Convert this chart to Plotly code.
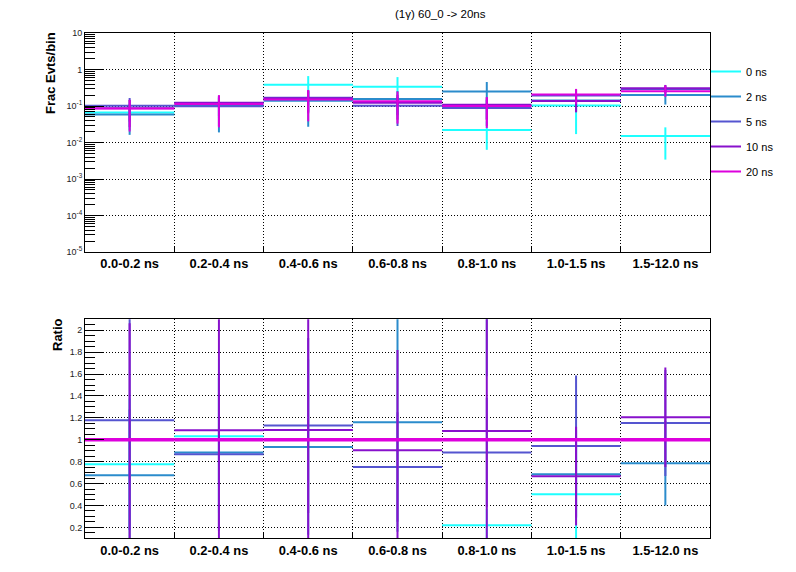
import plotly.graph_objects as go

# ---------------- data ----------------
categories = ["0.0-0.2 ns", "0.2-0.4 ns", "0.4-0.6 ns", "0.6-0.8 ns",
              "0.8-1.0 ns", "1.0-1.5 ns", "1.5-12.0 ns"]
series_names = ["0 ns", "2 ns", "5 ns", "10 ns", "20 ns"]
series_colors = ["#1effff", "#2b8ccc", "#5555d0", "#8811cc", "#dd00dd"]

frac_0ns = [0.0668, 0.1167, 0.384, 0.339, 0.022, 0.103, 0.015]
frac_2ns = [0.0582, 0.0999, 0.140, 0.1566, 0.248, 0.1406, 0.1996]
frac_5ns = [0.1014, 0.0981, 0.1695, 0.1013, 0.0884, 0.1931, 0.2926]
frac_10ns = [0.0864, 0.1229, 0.1632, 0.1222, 0.1079, 0.1369, 0.3063]
frac_20ns = [0.086, 0.113, 0.150, 0.135, 0.100, 0.205, 0.254]

err_hi_0ns = [0.045, 0.07, 0.276, 0.28, 0.0157, 0.08, 0.011]
err_lo_0ns = [0.045, 0.07, 0.276, 0.28, 0.0157, 0.086, 0.0116]
err_hi_2ns = [0.042, 0.081, 0.113, 0.101, 0.206, 0.07, 0.09]
err_lo_2ns = [0.042, 0.081, 0.113, 0.101, 0.206, 0.07, 0.09]
err_hi_5ns = [0.064, 0.07, 0.10, 0.073, 0.06, 0.09, 0.07]
err_lo_5ns = [0.064, 0.07, 0.10, 0.073, 0.06, 0.09, 0.07]
err_hi_10ns = [0.06, 0.07, 0.10, 0.08, 0.065, 0.07, 0.071]
err_lo_10ns = [0.06, 0.07, 0.10, 0.08, 0.065, 0.07, 0.071]
err_hi_20ns = [0.062, 0.085, 0.125, 0.113, 0.075, 0.089, 0.11]
err_lo_20ns = [0.066, 0.087, 0.112, 0.102, 0.075, 0.09, 0.075]

ratio_err_0ns = [0.6, 0.7, 0.3, 0.3, 0.15, 0.45, 0.04]
ratio_err_2ns = [0.6, 0.7, 0.8, 1.0, 0.9, 0.4, 0.386]
ratio_err_5ns = [1.0, 0.7, 0.8, 0.5, 0.5, 0.645, 0.484]
ratio_err_10ns = [1.06, 1.3, 1.3, 0.915, 1.3, 0.452, 0.455]

log_tickvals = [1e-5, 1e-4, 1e-3, 1e-2, 1e-1, 1, 10]
log_ticktext = ["10<sup>-5</sup>", "10<sup>-4</sup>", "10<sup>-3</sup>",
                "10<sup>-2</sup>", "10<sup>-1</sup>", "1", "10"]
ratio_tickvals = [0.2, 0.4, 0.6, 0.8, 1.0, 1.2, 1.4, 1.6, 1.8, 2.0]
ratio_ticktext = ["0.2", "0.4", "0.6", "0.8", "1", "1.2", "1.4", "1.6", "1.8", "2"]

title_text = "(1γ) 60_0 -> 20ns"
ytitle_top = "Frac Evts/bin"
ytitle_bottom = "Ratio"

# ---------------- derived ----------------
fracs = [frac_0ns, frac_2ns, frac_5ns, frac_10ns, frac_20ns]
errs_hi = [err_hi_0ns, err_hi_2ns, err_hi_5ns, err_hi_10ns, err_hi_20ns]
errs_lo = [err_lo_0ns, err_lo_2ns, err_lo_5ns, err_lo_10ns, err_lo_20ns]
ratio_errs = [ratio_err_0ns, ratio_err_2ns, ratio_err_5ns, ratio_err_10ns, None]
ratios = [[a / b for a, b in zip(f, frac_20ns)] for f in fracs]

nb = len(categories)
x_centers = [i + 0.5 for i in range(nb)]
half_w = [0.5] * nb
edges = list(range(1, nb))

FONT = "Liberation Sans, Arial, Helvetica, sans-serif"
DOT = "1px,2px"

# page has an 8px body margin: the figure occupies page x 8..796, y 8..572
OFF = 8
FW, FH = 796 - OFF, 572 - OFF


def px(x):
    return (x - OFF) / FW


def py(y):
    return 1 - (y - OFF) / FH


fig = go.Figure()

for name, color, vals, ehi, elo in zip(series_names, series_colors, fracs, errs_hi, errs_lo):
    fig.add_trace(go.Scatter(
        x=x_centers, y=vals, mode="markers", xaxis="x", yaxis="y",
        marker=dict(size=1, color=color, opacity=0), showlegend=False, hoverinfo="skip",
        error_x=dict(type="data", array=half_w, width=0, thickness=2, color=color),
        error_y=dict(type="data", symmetric=False, array=ehi, arrayminus=elo,
                     width=0, thickness=2, color=color),
    ))

for name, color, rvals, rerr in zip(series_names, series_colors, ratios, ratio_errs):
    ey = dict(type="data", array=rerr, width=0, thickness=2, color=color) if rerr else dict(visible=False)
    fig.add_trace(go.Scatter(
        x=x_centers, y=rvals, mode="markers", xaxis="x2", yaxis="y2",
        marker=dict(size=1, color=color, opacity=0), showlegend=False, hoverinfo="skip",
        error_x=dict(type="data", array=half_w, width=0,
                     thickness=2 if rerr else 3.5, color=color),
        error_y=ey,
    ))

for name, color in zip(series_names, series_colors):
    fig.add_trace(go.Scatter(
        x=[None], y=[None], mode="lines", name=name, legendgroup=name,
        line=dict(color=color, width=2), xaxis="x", yaxis="y",
    ))

frame = dict(showline=True, mirror=True, linecolor="black", linewidth=1,
             zeroline=False, automargin=False)
grid = dict(showgrid=True, gridcolor="black", griddash=DOT, gridwidth=1)

xcommon = dict(
    range=[0, nb], tickmode="array", tickvals=x_centers, ticktext=categories,
    ticks="", showgrid=False,
    tickfont=dict(family=FONT, size=12.9, color="black", weight="bold"),
    minor=dict(tickmode="array", tickvals=edges, ticks="inside", ticklen=6,
               tickcolor="black", showgrid=True, gridcolor="black", griddash=DOT, gridwidth=1),
    domain=[px(85), px(710)], **frame,
)

fig.update_layout(
    width=FW, height=FH, margin=dict(l=0, r=0, t=0, b=0),
    paper_bgcolor="white", plot_bgcolor="white",
    font=dict(family=FONT, color="black"),
    xaxis=dict(anchor="y", **xcommon),
    xaxis2=dict(anchor="y2", **xcommon),
    yaxis=dict(
        anchor="x", domain=[py(252), py(33)], type="log", range=[-5, 1],
        tickmode="array", tickvals=log_tickvals, ticktext=log_ticktext,
        ticks="inside", ticklen=19, tickcolor="black",
        tickfont=dict(family=FONT, size=9, color="#222"),
        minor=dict(tickmode="array",
                   tickvals=[m * 10 ** e for e in range(-5, 1) for m in range(2, 10)],
                   ticks="inside", ticklen=10, tickcolor="black", showgrid=False),
        **grid, **frame,
    ),
    yaxis2=dict(
        anchor="x2", domain=[py(538.3), py(319.3)], range=[0.1, 2.1],
        tickmode="array", tickvals=ratio_tickvals, ticktext=ratio_ticktext,
        ticks="inside", ticklen=19, tickcolor="black",
        tickfont=dict(family=FONT, size=9, color="#222"),
        minor=dict(tick0=0, dtick=0.05, ticks="inside", ticklen=10,
                   tickcolor="black", showgrid=False),
        **grid, **frame,
    ),
    legend=dict(x=px(706), y=py(57), xanchor="left", yanchor="top",
                bgcolor="rgba(0,0,0,0)", traceorder="grouped", tracegroupgap=6,
                font=dict(family=FONT, size=11, color="black")),
    annotations=[
        dict(text=title_text, xref="paper", yref="paper", x=px(440), y=py(14),
             showarrow=False, font=dict(family=FONT, size=11.5, color="black"),
             xanchor="center", yanchor="middle"),
        dict(text=ytitle_top, xref="paper", yref="paper", x=px(50), y=py(73),
             showarrow=False, textangle=-90,
             font=dict(family=FONT, size=13, color="black", weight="bold"),
             xanchor="center", yanchor="middle"),
        dict(text=ytitle_bottom, xref="paper", yref="paper", x=px(57), y=py(335),
             showarrow=False, textangle=-90,
             font=dict(family=FONT, size=13, color="black", weight="bold"),
             xanchor="center", yanchor="middle"),
    ],
)

fig.write_html("out.html")
